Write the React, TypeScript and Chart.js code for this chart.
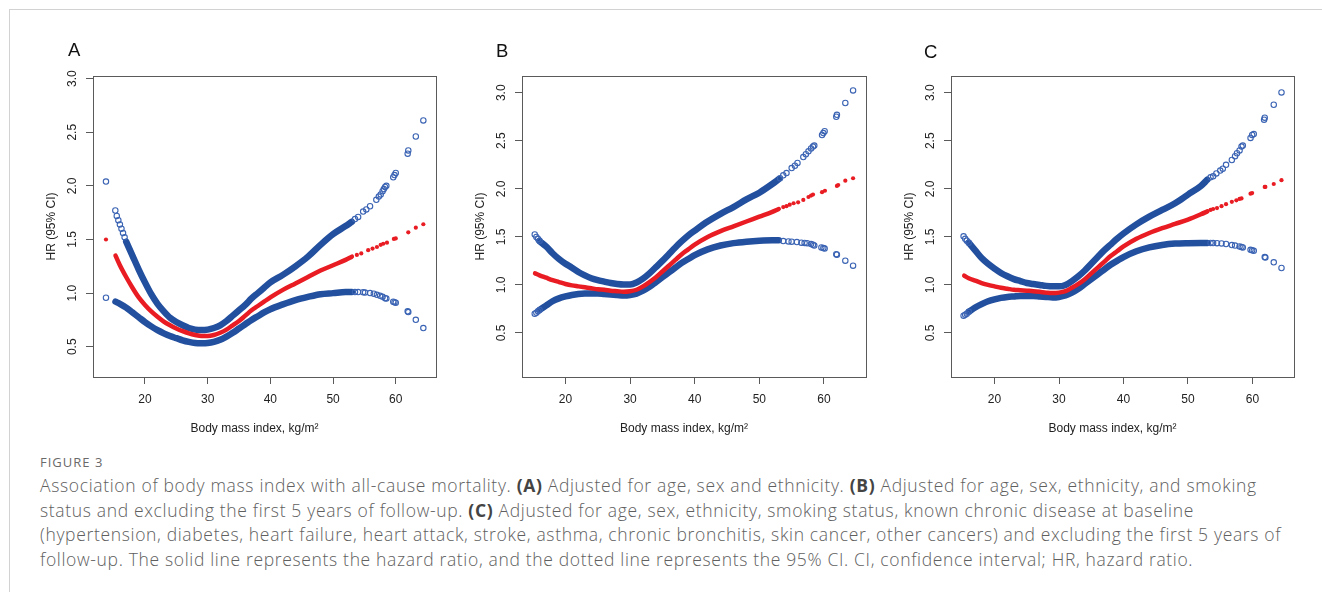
import React, { useEffect, useRef } from "react";
import { Chart, registerables } from "chart.js";

Chart.register(...registerables);

// ---------------- shared axis data ----------------
const xTickValues = [20, 30, 40, 50, 60];
const yTickValues = [0.5, 1.0, 1.5, 2.0, 2.5, 3.0];
const X_TITLE = "Body mass index, kg/m²";
const Y_TITLE = "HR (95% CI)";

// BMI grid of the dense (band) part of each curve
const bandBmi = [15.3, 16, 17, 18, 19, 20, 21, 22, 23, 24, 25, 26, 27, 28, 29, 30, 31, 32, 33, 34, 35, 36, 37, 38, 39, 40, 42, 44, 46, 48, 50, 52, 53];

// ---------------- Panel A ----------------
const upperBandA = [null, null, 1.48, 1.35, 1.22, 1.10, 0.99, 0.90, 0.83, 0.77, 0.73, 0.70, 0.675, 0.66, 0.655, 0.66, 0.675, 0.70, 0.74, 0.79, 0.84, 0.89, 0.95, 1.00, 1.05, 1.10, 1.17, 1.25, 1.34, 1.45, 1.55, 1.625, 1.665];
const hrBandA = [1.35, 1.26, 1.15, 1.05, 0.96, 0.89, 0.83, 0.78, 0.735, 0.70, 0.67, 0.645, 0.625, 0.61, 0.60, 0.60, 0.61, 0.63, 0.66, 0.70, 0.74, 0.79, 0.84, 0.88, 0.92, 0.96, 1.03, 1.09, 1.15, 1.21, 1.26, 1.31, 1.34];
const lowerBandA = [0.92, 0.90, 0.865, 0.82, 0.775, 0.73, 0.69, 0.655, 0.625, 0.60, 0.58, 0.56, 0.545, 0.535, 0.533, 0.535, 0.545, 0.565, 0.595, 0.63, 0.67, 0.71, 0.75, 0.785, 0.82, 0.85, 0.895, 0.935, 0.965, 0.99, 1.0, 1.01, 1.01];
const upperTailBmiA = [13.78, 15.27, 15.5, 15.75, 16.0, 16.25, 16.5, 16.75, 53.5, 54.0, 54.8, 55.3, 55.9, 56.9, 57.3, 57.6, 57.9, 58.1, 58.3, 58.5, 59.6, 59.8, 60.0, 61.9, 62.0, 63.2, 64.4];
const upperTailA = [2.04, 1.77, 1.72, 1.68, 1.64, 1.60, 1.56, 1.52, 1.69, 1.71, 1.76, 1.78, 1.81, 1.87, 1.90, 1.92, 1.95, 1.97, 1.99, 2.0, 2.08, 2.10, 2.12, 2.30, 2.33, 2.46, 2.61];
const hrTailBmiA = [13.78, 53.8, 54.5, 55.6, 56.3, 57.0, 57.6, 58.0, 58.6, 59.7, 60.0, 62.0, 63.2, 64.4];
const hrTailA = [1.50, 1.356, 1.37, 1.40, 1.415, 1.43, 1.45, 1.46, 1.47, 1.505, 1.51, 1.567, 1.61, 1.642];
const lowerTailBmiA = [13.78, 53.5, 54.0, 54.8, 55.1, 55.9, 56.5, 57.0, 57.5, 57.9, 58.3, 58.5, 59.6, 59.8, 60.0, 61.9, 62.0, 63.2, 64.4];
const lowerTailA = [0.957, 1.01, 1.01, 1.008, 1.005, 1.0, 0.995, 0.984, 0.975, 0.965, 0.953, 0.95, 0.92, 0.915, 0.91, 0.83, 0.823, 0.751, 0.674];

// ---------------- Panel B ----------------
const upperBandB = [null, 1.455, 1.40, 1.33, 1.27, 1.22, 1.18, 1.135, 1.10, 1.07, 1.05, 1.035, 1.02, 1.01, 1.005, 1.005, 1.025, 1.065, 1.12, 1.185, 1.25, 1.32, 1.39, 1.455, 1.515, 1.565, 1.66, 1.74, 1.81, 1.89, 1.96, 2.05, 2.10];
const hrBandB = [1.12, 1.10, 1.075, 1.05, 1.03, 1.01, 0.995, 0.985, 0.975, 0.965, 0.955, 0.95, 0.94, 0.935, 0.93, 0.935, 0.95, 0.985, 1.03, 1.08, 1.14, 1.20, 1.26, 1.32, 1.37, 1.42, 1.50, 1.56, 1.61, 1.66, 1.71, 1.76, 1.79];
const lowerBandB = [null, 0.74, 0.785, 0.83, 0.86, 0.88, 0.895, 0.905, 0.91, 0.91, 0.91, 0.905, 0.90, 0.895, 0.89, 0.895, 0.91, 0.94, 0.98, 1.03, 1.08, 1.13, 1.18, 1.23, 1.27, 1.31, 1.37, 1.41, 1.435, 1.45, 1.46, 1.465, 1.465];
const upperTailBmiB = [15.25, 15.5, 15.77, 16.0, 53.2, 53.7, 54.2, 55.0, 55.5, 55.9, 56.8, 57.2, 57.6, 58.0, 58.3, 58.5, 59.7, 59.9, 60.1, 61.9, 62.0, 63.3, 64.5];
const upperTailB = [1.526, 1.50, 1.478, 1.46, 2.11, 2.14, 2.164, 2.216, 2.24, 2.27, 2.33, 2.36, 2.39, 2.42, 2.44, 2.45, 2.56, 2.58, 2.60, 2.75, 2.77, 2.893, 3.024];
const hrTailBmiB = [53.7, 54.2, 54.7, 55.3, 56.0, 56.8, 57.6, 58.0, 58.3, 59.7, 60.15, 62.0, 62.2, 63.3, 64.5];
const hrTailB = [1.81, 1.82, 1.835, 1.85, 1.86, 1.885, 1.915, 1.93, 1.94, 1.965, 1.98, 2.03, 2.04, 2.085, 2.11];
const lowerTailBmiB = [15.25, 15.5, 15.75, 16.0, 53.7, 54.5, 55.0, 55.8, 56.5, 57.0, 57.4, 58.0, 58.3, 58.5, 59.6, 59.9, 60.1, 61.9, 62.0, 63.3, 64.5];
const lowerTailB = [0.70, 0.71, 0.725, 0.74, 1.456, 1.453, 1.45, 1.446, 1.44, 1.437, 1.435, 1.425, 1.418, 1.41, 1.39, 1.384, 1.378, 1.32, 1.315, 1.252, 1.20];

// ---------------- Panel C ----------------
const upperBandC = [null, 1.44, 1.36, 1.28, 1.22, 1.17, 1.125, 1.09, 1.06, 1.04, 1.02, 1.01, 1.0, 0.99, 0.985, 0.985, 1.0, 1.04, 1.09, 1.15, 1.22, 1.29, 1.36, 1.42, 1.48, 1.535, 1.63, 1.71, 1.78, 1.85, 1.94, 2.03, 2.095];
const hrBandC = [1.096, 1.07, 1.045, 1.02, 1.0, 0.985, 0.97, 0.96, 0.95, 0.945, 0.94, 0.935, 0.928, 0.92, 0.915, 0.92, 0.935, 0.97, 1.01, 1.06, 1.12, 1.18, 1.24, 1.30, 1.35, 1.40, 1.48, 1.54, 1.59, 1.635, 1.68, 1.735, 1.765];
const lowerBandC = [null, 0.72, 0.765, 0.80, 0.83, 0.85, 0.865, 0.875, 0.88, 0.885, 0.885, 0.885, 0.88, 0.875, 0.87, 0.875, 0.89, 0.92, 0.96, 1.01, 1.06, 1.11, 1.16, 1.21, 1.25, 1.29, 1.35, 1.39, 1.415, 1.43, 1.435, 1.437, 1.437];
const upperTailBmiC = [15.2, 15.45, 15.7, 16.0, 53.5, 53.9, 54.4, 55.0, 55.4, 55.9, 56.8, 57.3, 57.6, 58.0, 58.3, 58.5, 59.7, 59.95, 60.2, 61.8, 61.9, 63.3, 64.5];
const upperTailC = [1.506, 1.48, 1.46, 1.44, 2.12, 2.13, 2.16, 2.19, 2.21, 2.25, 2.30, 2.34, 2.37, 2.40, 2.44, 2.45, 2.53, 2.56, 2.57, 2.72, 2.74, 2.875, 3.003];
const hrTailBmiC = [53.5, 53.9, 54.5, 55.2, 55.9, 56.8, 57.5, 58.0, 58.3, 59.7, 59.95, 61.9, 62.0, 63.3, 64.5];
const hrTailC = [1.78, 1.79, 1.80, 1.82, 1.84, 1.865, 1.88, 1.895, 1.90, 1.95, 1.956, 2.02, 2.02, 2.05, 2.09];
const lowerTailBmiC = [15.2, 15.45, 15.7, 16.0, 53.5, 53.9, 54.5, 55.2, 55.9, 56.8, 57.3, 58.0, 58.3, 58.5, 59.7, 59.95, 60.2, 61.9, 62.0, 63.3, 64.5];
const lowerTailC = [0.68, 0.69, 0.70, 0.72, 1.437, 1.436, 1.435, 1.432, 1.426, 1.415, 1.41, 1.40, 1.395, 1.39, 1.365, 1.36, 1.355, 1.29, 1.285, 1.235, 1.176];

// ---------------- caption ----------------
const figureLabel = "FIGURE 3";

// ---------------- styles ----------------
const BAND_BLUE = "#224f9e";
const CIRCLE_BLUE = "#3a63b3";
const RED = "#e81c22";
const AXIS = "#5a5a5a";
const TEXT = "#222222";
const FONT = "'Liberation Sans', Arial, Helvetica, sans-serif";
const CAPTION_FONT = "'Open Sans', 'Noto Sans', sans-serif";

const CANVAS_W = 420;
const CANVAS_H = 410;
const CANVAS_TOP = 30;

type PanelSpec = {
  letter: string;
  canvasLeft: number;
  yAxisWidth: number;
  yTitlePad: number;
  xMin: number; xMax: number; yMin: number; yMax: number;
  letterLeft: number; letterTop: number;
  upperBand: (number | null)[]; hrBand: (number | null)[]; lowerBand: (number | null)[];
  upperTailBmi: number[]; upperTail: number[];
  hrTailBmi: number[]; hrTail: number[];
  lowerTailBmi: number[]; lowerTail: number[];
};

const panels: PanelSpec[] = [
  {
    letter: "A", canvasLeft: 30, yAxisWidth: 63, yTitlePad: 14.8,
    xMin: 11.71, xMax: 66.42, yMin: 0.218, yMax: 3.024, letterLeft: 68, letterTop: 41,
    upperBand: upperBandA, hrBand: hrBandA, lowerBand: lowerBandA,
    upperTailBmi: upperTailBmiA, upperTail: upperTailA, hrTailBmi: hrTailBmiA, hrTail: hrTailA,
    lowerTailBmi: lowerTailBmiA, lowerTail: lowerTailA,
  },
  {
    letter: "B", canvasLeft: 460, yAxisWidth: 62, yTitlePad: 13.8,
    xMin: 13.28, xMax: 66.5, yMin: 0.042, yMax: 3.174, letterLeft: 496, letterTop: 42,
    upperBand: upperBandB, hrBand: hrBandB, lowerBand: lowerBandB,
    upperTailBmi: upperTailBmiB, upperTail: upperTailB, hrTailBmi: hrTailBmiB, hrTail: hrTailB,
    lowerTailBmi: lowerTailBmiB, lowerTail: lowerTailB,
  },
  {
    letter: "C", canvasLeft: 888, yAxisWidth: 63, yTitlePad: 14.8,
    xMin: 13.25, xMax: 66.44, yMin: 0.042, yMax: 3.174, letterLeft: 924, letterTop: 42.5,
    upperBand: upperBandC, hrBand: hrBandC, lowerBand: lowerBandC,
    upperTailBmi: upperTailBmiC, upperTail: upperTailC, hrTailBmi: hrTailBmiC, hrTail: hrTailC,
    lowerTailBmi: lowerTailBmiC, lowerTail: lowerTailC,
  },
];

const pts = (xs: number[], ys: (number | null)[]) => xs.map((x, i) => ({ x, y: ys[i] }));

// R-style frame box + x-axis title (R centres it slightly left of the box centre)
const rFrame = {
  id: "rFrame",
  afterDraw(chart: any, _args: any, opts: any) {
    const { ctx, chartArea: a } = chart;
    ctx.save();
    ctx.strokeStyle = opts.color;
    ctx.lineWidth = 1;
    ctx.strokeRect(Math.round(a.left) + 0.5, Math.round(a.top) + 0.5, Math.round(a.right - a.left), Math.round(a.bottom - a.top));
    ctx.fillStyle = opts.textColor;
    ctx.font = `12px ${FONT}`;
    ctx.textAlign = "center";
    ctx.textBaseline = "middle";
    ctx.fillText(opts.xTitle, (a.left + a.right) / 2 + opts.xTitleShift, opts.xTitleY);
    ctx.restore();
  },
};

function buildConfig(p: PanelSpec): any {
  const band = (label: string, ys: (number | null)[], color: string, width: number, order: number) => ({
    label, data: pts(bandBmi, ys), showLine: true, pointRadius: 0, borderWidth: width,
    borderColor: color, backgroundColor: color, borderCapStyle: "round", borderJoinStyle: "round",
    cubicInterpolationMode: "monotone", spanGaps: false, order,
  });
  return {
    type: "scatter",
    data: {
      datasets: [
        band("Upper 95% CI", p.upperBand, BAND_BLUE, 6.5, 3),
        band("Lower 95% CI", p.lowerBand, BAND_BLUE, 6.5, 3),
        {
          label: "Upper 95% CI (sparse)", data: pts(p.upperTailBmi, p.upperTail), showLine: false,
          pointRadius: 2.7, pointBorderWidth: 1.1, pointBackgroundColor: "rgba(0,0,0,0)", pointBorderColor: CIRCLE_BLUE, order: 2,
        },
        {
          label: "Lower 95% CI (sparse)", data: pts(p.lowerTailBmi, p.lowerTail), showLine: false,
          pointRadius: 2.7, pointBorderWidth: 1.1, pointBackgroundColor: "rgba(0,0,0,0)", pointBorderColor: CIRCLE_BLUE, order: 2,
        },
        band("HR", p.hrBand, RED, 4.5, 1),
        {
          label: "HR (sparse)", data: pts(p.hrTailBmi, p.hrTail), showLine: false,
          pointRadius: 2.1, pointBorderWidth: 0, pointBackgroundColor: RED, pointBorderColor: RED, order: 0,
        },
      ],
    },
    options: {
      responsive: false,
      animation: false,
      events: [],
      layout: { padding: { left: 0, top: 46, right: 14, bottom: 0 }, autoPadding: false },
      plugins: {
        legend: { display: false },
        tooltip: { enabled: false },
        rFrame: { color: AXIS, textColor: TEXT, xTitle: X_TITLE, xTitleShift: -10, xTitleY: 398.3 },
      },
      scales: {
        x: {
          type: "linear", min: p.xMin, max: p.xMax,
          afterBuildTicks: (s: any) => { s.ticks = xTickValues.map((v) => ({ value: v })); },
          afterFit: (s: any) => { s.height = 63; },
          grid: { drawOnChartArea: false, drawTicks: true, tickLength: 7, color: AXIS, tickColor: AXIS },
          border: { display: false },
          ticks: { color: TEXT, font: { family: FONT, size: 12 }, padding: 8.5, maxRotation: 0, callback: (v: any) => String(v) },
        },
        y: {
          type: "linear", min: p.yMin, max: p.yMax,
          afterBuildTicks: (s: any) => { s.ticks = yTickValues.map((v) => ({ value: v })); },
          afterFit: (s: any) => { s.width = p.yAxisWidth; },
          grid: { drawOnChartArea: false, drawTicks: true, tickLength: 7, color: AXIS, tickColor: AXIS },
          border: { display: false },
          ticks: {
            color: TEXT, font: { family: FONT, size: 12 }, padding: 5, minRotation: 90, maxRotation: 90,
            crossAlign: "center", callback: (v: any) => Number(v).toFixed(1),
          },
          title: { display: true, text: Y_TITLE, color: TEXT, font: { family: FONT, size: 12 }, padding: { top: p.yTitlePad, bottom: 0 } },
        },
      },
    },
    plugins: [rFrame],
  };
}

function Panel({ spec }: { spec: PanelSpec }) {
  const ref = useRef<HTMLCanvasElement>(null);
  useEffect(() => {
    const chart = new Chart(ref.current as HTMLCanvasElement, buildConfig(spec));
    return () => chart.destroy();
  }, [spec]);
  return (
    <>
      <canvas
        ref={ref}
        width={CANVAS_W}
        height={CANVAS_H}
        style={{ position: "absolute", left: spec.canvasLeft, top: CANVAS_TOP, width: CANVAS_W, height: CANVAS_H }}
      />
      <div
        style={{
          position: "absolute", left: spec.letterLeft, top: spec.letterTop, fontFamily: FONT,
          fontSize: 18.5, lineHeight: "18.5px", color: "#111",
        }}
      >
        {spec.letter}
      </div>
    </>
  );
}

export default function App() {
  const capStyle: React.CSSProperties = {
    position: "absolute", left: 40, top: 472.8, fontFamily: CAPTION_FONT, fontWeight: 300,
    fontSize: 17.5, letterSpacing: 0.66, lineHeight: "24.8px", color: "#606060", whiteSpace: "pre",
  };
  const boldStyle: React.CSSProperties = { fontWeight: 700, color: "#444" };
  return (
    <div style={{ position: "absolute", left: 0, top: 0, width: 1322, height: 592, overflow: "hidden", background: "#fff" }}>
      <div
        style={{
          position: "absolute", left: 9, top: 9, width: 1313, height: 583, boxSizing: "border-box",
          borderTop: "1px solid #d2d2d2", borderLeft: "1px solid #d2d2d2",
        }}
      />
      {panels.map((p) => (
        <Panel key={p.letter} spec={p} />
      ))}
      <div
        style={{
          position: "absolute", left: 40, top: 453.6, fontFamily: CAPTION_FONT,
          fontSize: 13, lineHeight: "16px", letterSpacing: 1, color: "#6a6a6a", whiteSpace: "pre",
        }}
      >
        {figureLabel}
      </div>
      <div style={capStyle}>
        {"Association of body mass index with all-cause mortality. "}<b style={boldStyle}>(A)</b>{" Adjusted for age, sex and ethnicity. "}<b style={boldStyle}>(B)</b>{" Adjusted for age, sex, ethnicity, and smoking"}
        {"\n"}
        {"status and excluding the first 5 years of follow-up. "}<b style={boldStyle}>(C)</b>{" Adjusted for age, sex, ethnicity, smoking status, known chronic disease at baseline"}
        {"\n"}
        {"(hypertension, diabetes, heart failure, heart attack, stroke, asthma, chronic bronchitis, skin cancer, other cancers) and excluding the first 5 years of"}
        {"\n"}
        {"follow-up. The solid line represents the hazard ratio, and the dotted line represents the 95% CI. CI, confidence interval; HR, hazard ratio."}
      </div>
    </div>
  );
}
